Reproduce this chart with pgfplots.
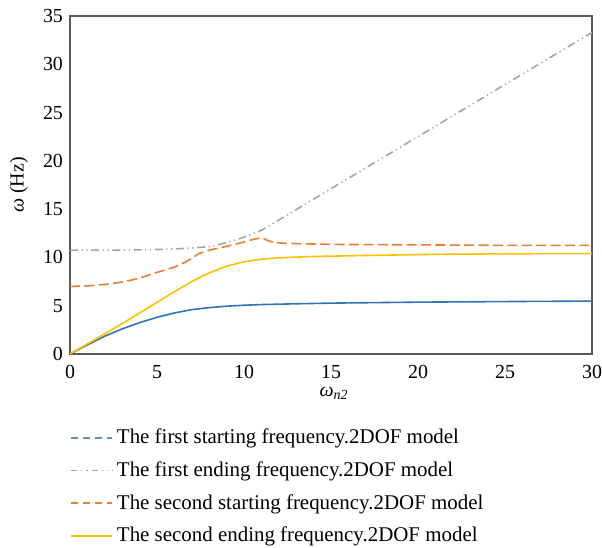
\documentclass[border=0pt]{standalone}
\usepackage{fontspec}
\setmainfont{Liberation Serif}
\usepackage{pgfplots}
\pgfplotsset{compat=1.18}
\definecolor{cblue}{HTML}{2E75B6}
\definecolor{cgray}{HTML}{A5A5A5}
\definecolor{corange}{HTML}{ED7D31}
\definecolor{cyellow}{HTML}{FFC000}
\begin{document}
\begin{tikzpicture}
\begin{axis}[
  scale only axis, width=261bp, height=169bp,
  xmin=0, xmax=30, ymin=0, ymax=35,
  xtick={0,5,...,30}, ytick={0,5,...,35},
  major tick length=0pt,
  axis line style={draw=black!65, line width=0.6bp},
  tick label style={font=\fontsize{10}{12}\selectfont},
  xticklabel style={yshift=-2bp},
  /pgf/number format/assume math mode=true,
  xlabel={\itshape ω\textsubscript{n2}},
  ylabel={\textit{ω} (Hz)},
  label style={font=\fontsize{10}{12}\selectfont},
  xlabel style={at={(axis description cs:0.506,-0.116)}, anchor=center},
  ylabel style={at={(axis description cs:-0.098,0.5)}, anchor=center},
  legend cell align=left,
  legend style={at={(axis description cs:0,-0.209)}, anchor=north west, draw=none, fill=none,
    font=\fontsize{10.5}{12.6}\selectfont, row sep=3.5bp, inner sep=0pt},
  legend image code/.code={\path (0bp,0bp) -- (20.5bp,0bp); \draw[#1] (0bp,0bp) -- (17.5bp,0bp);},
  every axis plot/.append style={line width=0.8bp},
]
\coordinate (O) at (rel axis cs:0,0);
\addplot[cblue, forget plot] coordinates {
(0,0) (1,0.95) (2,1.85) (3,2.6) (4,3.25) (5,3.8) (6,4.25) (7,4.6) (8,4.8) (9,4.95) (10,5.05) (11,5.12) (13,5.2) (15,5.27) (20,5.37) (25,5.43) (30,5.48)};
\addplot[cgray, forget plot, dash pattern=on 4bp off 1.8bp on 0.6bp off 1.8bp on 0.6bp off 1.8bp] coordinates {
(0,10.75) (2,10.75) (4,10.78) (5,10.82) (6,10.88) (7,10.97) (8,11.12) (8.5,11.3) (9,11.55) (9.5,11.8) (10,12.1) (10.5,12.45) (11,12.8) (30,33.3)};
\addplot[corange, forget plot, dash pattern=on 5bp off 2.2bp] coordinates {
(0,7.0) (1,7.05) (2,7.2) (3,7.45) (4,7.85) (5,8.45) (6,9.0) (6.5,9.4) (7,9.9) (7.4,10.4) (8,10.75) (9,11.15) (10,11.6) (10.5,11.85) (11,12.05) (11.3,11.8) (11.7,11.55) (12.5,11.45) (15,11.35) (20,11.3) (25,11.25) (30,11.25)};
\addplot[cyellow, forget plot] coordinates {
(0,0) (1,1.05) (2,2.1) (3,3.15) (4,4.25) (5,5.35) (6,6.45) (7,7.5) (7.5,7.95) (8,8.4) (9,9.1) (10,9.55) (11,9.82) (12,9.96) (14,10.1) (17,10.2) (20,10.3) (25,10.38) (30,10.4)};
\addlegendimage{color=cblue!80, line width=0.8bp, dash pattern=on 3.5bp off 2.5bp}
\addlegendentry{The first starting frequency.2DOF model}
\addlegendimage{color=cgray, line width=0.6bp, dash pattern=on 3bp off 2bp on 0.6bp off 2bp on 0.6bp off 2bp}
\addlegendentry{The first ending frequency.2DOF model}
\addlegendimage{color=corange, line width=0.8bp, dash pattern=on 3.5bp off 2.5bp}
\addlegendentry{The second starting frequency.2DOF model}
\addlegendimage{color=cyellow, line width=0.8bp}
\addlegendentry{The second ending frequency.2DOF model}
\end{axis}
\pgfresetboundingbox
\path ([shift={(-35bp,-97bp)}]O) rectangle ([shift={(266bp,177bp)}]O);
\end{tikzpicture}
\end{document}
